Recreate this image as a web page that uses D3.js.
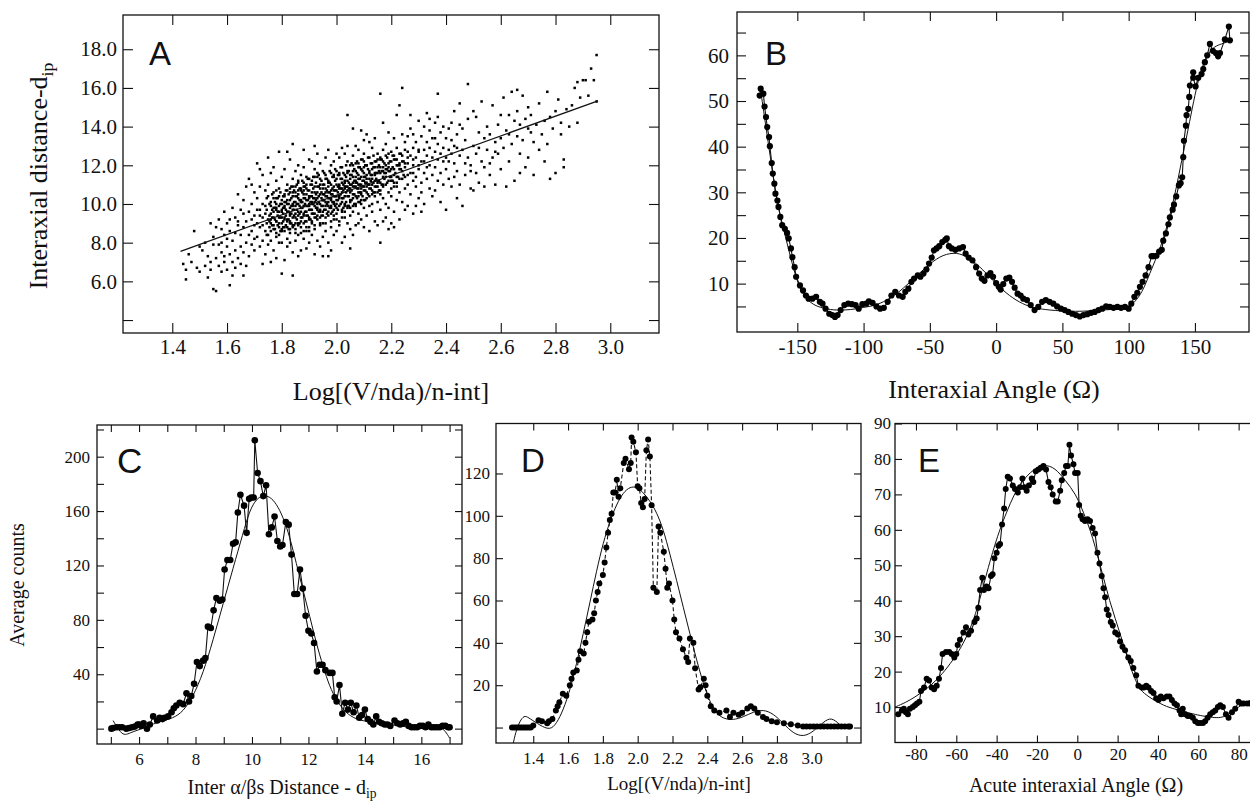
<!DOCTYPE html>
<html><head><meta charset="utf-8">
<script src="https://cdn.jsdelivr.net/npm/d3@7"></script>
<style>html,body{margin:0;padding:0;background:#fff;} svg{display:block;}</style>
</head><body><svg id="chart" width="1250" height="802"></svg>
<script>
// ---------------- DATA ----------------
// Panel A: scatter of Log[(V/nda)/n-int] vs interaxial distance, plus linear fit
const scatterA = [
[1.44,6.9],[1.45,6.6],[1.45,6.1],[1.46,7.4],[1.47,7.0],[1.48,8.6],[1.49,6.7],[1.50,6.5],[1.50,7.8],
[1.51,7.6],[1.52,6.8],[1.52,8.0],[1.53,7.3],[1.53,6.2],[1.54,7.0],[1.54,9.0],[1.55,5.6],[1.55,8.3],[1.55,7.9],[1.54,6.6],
[1.56,5.5],[1.56,7.2],[1.56,8.8],[1.57,6.8],[1.57,9.2],[1.58,7.5],[1.58,8.0],[1.58,6.5],[1.59,7.0],[1.59,8.4],[1.59,9.6],[1.60,6.6],[1.60,7.8],[1.60,9.0],[1.60,8.2],[1.57,7.9],[1.58,8.7],[1.59,7.3],
[1.61,5.8],[1.61,7.4],[1.61,8.6],[1.62,9.8],[1.62,7.0],[1.62,8.1],[1.63,9.3],[1.63,6.7],[1.63,7.6],[1.64,8.9],[1.64,10.5],[1.64,7.2],[1.65,8.4],[1.65,9.7],[1.65,7.8],[1.62,6.3],[1.63,8.5],[1.64,9.1],[1.61,9.2],[1.65,6.9],
[1.66,7.5],[1.66,8.8],[1.66,10.2],[1.67,9.1],[1.67,6.8],[1.67,8.0],[1.68,9.6],[1.68,11.3],[1.68,7.3],[1.69,8.6],[1.69,10.0],[1.69,9.2],[1.70,8.2],[1.70,10.6],[1.70,9.4],[1.70,7.6],[1.66,9.5],[1.67,10.9],[1.68,8.4],[1.69,7.9],[1.70,8.9],[1.66,6.3],[1.69,11.0],
[1.71,12.1],[1.71,9.0],[1.71,8.3],[1.71,10.3],[1.72,7.8],[1.72,9.7],[1.72,8.8],[1.72,10.9],[1.73,9.3],[1.73,8.1],[1.73,11.5],[1.73,10.0],[1.74,8.6],[1.74,9.9],[1.74,7.4],[1.74,10.7],[1.75,9.2],[1.75,8.4],[1.75,11.0],[1.75,12.4],[1.72,9.4],[1.73,8.9],[1.74,9.5],[1.71,9.7],[1.75,7.9],[1.73,6.9],[1.75,10.4],[1.72,11.8],
[1.76,9.5],[1.76,8.1],[1.76,10.1],[1.76,11.6],[1.77,8.7],[1.77,9.8],[1.77,10.6],[1.77,7.6],[1.78,9.1],[1.78,8.3],[1.78,10.3],[1.78,11.2],[1.79,9.6],[1.79,8.0],[1.79,10.8],[1.79,12.7],[1.80,9.3],[1.80,8.6],[1.80,10.0],[1.80,11.4],[1.80,6.4],[1.76,9.0],[1.77,9.3],[1.78,9.8],[1.79,9.0],[1.80,9.7],[1.77,11.9],[1.78,7.2],[1.79,8.4],[1.76,7.0],[1.80,8.0],[1.78,10.7],
[1.81,9.9],[1.81,8.8],[1.81,10.5],[1.81,11.8],[1.81,9.2],[1.82,8.2],[1.82,9.6],[1.82,10.2],[1.82,11.0],[1.82,7.8],[1.83,9.0],[1.83,10.8],[1.83,9.4],[1.83,8.5],[1.83,12.3],[1.84,10.0],[1.84,9.7],[1.84,8.9],[1.84,11.3],[1.84,7.5],[1.85,9.3],[1.85,10.4],[1.85,8.1],[1.85,11.7],[1.85,9.9],[1.84,13.1],[1.82,12.7],[1.81,7.1],[1.83,8.0],[1.85,10.9],[1.82,9.1],[1.84,10.6],[1.83,9.8],[1.85,8.7],[1.81,10.1],[1.84,6.3],
[1.86,9.6],[1.86,10.3],[1.86,8.4],[1.86,11.1],[1.86,12.0],[1.86,9.0],[1.87,9.8],[1.87,10.7],[1.87,8.8],[1.87,11.5],[1.87,7.6],[1.87,10.1],[1.88,9.4],[1.88,10.5],[1.88,8.2],[1.88,11.9],[1.88,9.9],[1.88,12.8],[1.89,10.2],[1.89,9.1],[1.89,8.6],[1.89,11.0],[1.89,10.8],[1.90,9.7],[1.90,10.4],[1.90,8.0],[1.90,11.3],[1.90,9.3],[1.90,12.3],[1.86,7.3],[1.87,9.3],[1.88,10.9],[1.89,9.6],[1.90,8.8],[1.89,7.7],[1.86,10.7],[1.88,8.6],[1.90,10.0],
[1.91,10.1],[1.91,9.0],[1.91,11.2],[1.91,8.4],[1.91,10.6],[1.92,9.5],[1.92,10.9],[1.92,8.7],[1.92,11.8],[1.92,10.3],[1.92,7.4],[1.93,10.0],[1.93,9.2],[1.93,11.4],[1.93,8.1],[1.93,12.6],[1.94,9.7],[1.94,10.5],[1.94,11.0],[1.94,8.9],[1.94,9.3],[1.95,10.2],[1.95,11.7],[1.95,9.0],[1.95,8.3],[1.95,10.8],[1.91,12.2],[1.93,9.7],[1.94,12.1],[1.92,9.9],[1.93,10.6],[1.95,9.6],[1.91,9.5],[1.94,7.8],[1.92,13.0],[1.95,7.3],
[1.96,9.9],[1.96,10.6],[1.96,11.3],[1.96,8.6],[1.96,12.4],[1.97,10.3],[1.97,9.4],[1.97,11.1],[1.97,8.0],[1.97,10.9],[1.98,9.8],[1.98,10.5],[1.98,11.6],[1.98,8.8],[1.98,12.0],[1.99,10.1],[1.99,9.2],[1.99,11.4],[1.99,8.4],[1.99,10.7],[2.00,10.0],[2.00,11.0],[2.00,9.5],[2.00,12.6],[2.00,8.6],[1.96,9.3],[1.97,12.8],[1.98,9.1],[1.99,12.2],[2.00,10.4],[1.97,7.3],[1.98,10.2],[1.96,10.1],[1.99,9.7],[2.00,11.7],[1.98,7.6],
[2.01,10.3],[2.01,9.1],[2.01,11.5],[2.01,12.4],[2.01,8.9],[2.02,10.6],[2.02,9.6],[2.02,11.9],[2.02,10.1],[2.02,12.9],[2.03,10.9],[2.03,9.3],[2.03,11.2],[2.03,8.3],[2.03,10.4],[2.04,11.6],[2.04,9.8],[2.04,10.7],[2.04,12.2],[2.04,14.6],[2.05,10.2],[2.05,11.3],[2.05,9.4],[2.05,12.0],[2.05,8.7],[2.02,8.0],[2.03,12.6],[2.04,9.0],[2.01,10.8],[2.05,10.8],[2.03,9.9],[2.02,11.1],[2.04,13.0],[2.05,7.7],
[2.06,10.5],[2.06,11.7],[2.06,9.6],[2.06,12.5],[2.06,13.9],[2.07,10.9],[2.07,11.2],[2.07,9.9],[2.07,12.1],[2.07,8.9],[2.08,10.4],[2.08,11.5],[2.08,12.8],[2.08,9.5],[2.08,10.8],[2.09,11.0],[2.09,10.2],[2.09,12.3],[2.09,9.2],[2.09,11.8],[2.10,10.7],[2.10,11.4],[2.10,12.6],[2.10,9.8],[2.10,13.3],[2.06,8.4],[2.07,13.0],[2.08,9.0],[2.09,10.6],[2.10,8.8],[2.08,11.9],[2.06,11.1],[2.10,11.9],[2.09,13.8],
[2.11,11.1],[2.11,10.3],[2.11,12.0],[2.11,9.4],[2.11,13.6],[2.12,10.8],[2.12,11.6],[2.12,12.4],[2.12,9.9],[2.13,11.3],[2.13,10.5],[2.13,12.9],[2.13,9.6],[2.13,11.8],[2.14,10.9],[2.14,12.2],[2.14,11.5],[2.14,9.1],[2.14,13.4],[2.15,11.2],[2.15,10.1],[2.15,12.6],[2.15,11.9],[2.15,8.9],[2.12,8.6],[2.13,10.0],[2.14,10.4],[2.12,13.2],[2.11,11.5],[2.15,10.6],
[2.16,11.6],[2.16,10.7],[2.16,12.3],[2.16,15.7],[2.16,9.7],[2.17,11.0],[2.17,12.8],[2.17,10.3],[2.17,11.9],[2.17,14.2],[2.18,11.4],[2.18,10.0],[2.18,12.5],[2.18,13.1],[2.18,9.3],[2.19,11.7],[2.19,10.6],[2.19,12.1],[2.19,13.7],[2.20,11.2],[2.20,12.7],[2.20,10.4],[2.20,9.0],[2.16,8.0],[2.17,9.1],[2.19,9.8],[2.18,11.8],[2.20,11.8],[2.17,11.4],[2.19,8.7],
[2.21,11.5],[2.21,12.3],[2.21,10.9],[2.21,13.4],[2.21,9.6],[2.22,12.0],[2.22,11.1],[2.22,12.9],[2.22,10.2],[2.23,11.8],[2.23,12.6],[2.23,10.6],[2.23,15.1],[2.23,9.2],[2.24,12.2],[2.24,11.3],[2.24,16.0],[2.24,13.6],[2.25,11.9],[2.25,12.8],[2.25,10.8],[2.25,13.2],[2.22,14.6],[2.24,10.1],[2.21,8.8],[2.25,9.7],[2.23,12.1],
[2.26,12.1],[2.26,11.0],[2.26,13.5],[2.26,9.9],[2.27,12.5],[2.27,11.6],[2.27,10.5],[2.27,13.9],[2.28,12.0],[2.28,11.2],[2.28,12.9],[2.28,9.5],[2.29,12.4],[2.29,11.4],[2.29,13.2],[2.29,10.9],[2.30,12.7],[2.30,11.8],[2.30,14.3],[2.30,10.3],[2.27,14.6],[2.28,13.6],[2.29,9.9],[2.26,12.7],
[2.31,12.2],[2.31,11.1],[2.31,13.5],[2.31,10.6],[2.32,12.8],[2.32,11.6],[2.32,14.0],[2.32,10.0],[2.33,12.5],[2.33,13.2],[2.33,11.3],[2.33,14.7],[2.34,12.0],[2.34,12.9],[2.34,10.8],[2.34,13.8],[2.35,12.4],[2.35,11.5],[2.35,13.4],[2.35,10.4],[2.32,12.2],[2.34,14.4],[2.31,9.6],[2.33,11.9],
[2.36,12.7],[2.36,11.9],[2.36,14.2],[2.36,10.7],[2.37,13.1],[2.37,12.3],[2.37,15.7],[2.37,11.2],[2.38,12.6],[2.38,13.7],[2.38,11.6],[2.38,10.1],[2.39,12.9],[2.39,14.0],[2.39,11.0],[2.40,12.4],[2.40,13.4],[2.40,11.8],[2.40,9.7],[2.37,14.5],[2.39,12.2],[2.36,13.4],
[2.41,12.8],[2.41,13.9],[2.41,11.3],[2.42,12.6],[2.42,14.2],[2.42,10.9],[2.42,13.3],[2.43,12.1],[2.43,13.0],[2.43,14.8],[2.44,12.9],[2.44,11.7],[2.44,13.6],[2.45,12.5],[2.45,14.1],[2.45,11.0],[2.45,15.2],[2.41,12.2],[2.43,11.4],[2.44,10.3],
[2.46,12.8],[2.46,13.9],[2.47,11.5],[2.47,13.3],[2.48,16.2],[2.48,12.4],[2.48,14.4],[2.49,12.0],[2.49,10.8],[2.50,13.0],[2.50,14.8],[2.50,10.7],[2.51,12.6],[2.51,11.6],[2.52,13.7],[2.52,11.1],[2.53,12.2],[2.53,15.3],[2.54,13.4],[2.54,10.9],[2.55,12.8],[2.55,14.0],[2.46,9.9],[2.49,11.7],[2.52,12.9],[2.47,12.1],[2.51,14.5],[2.54,11.9],
[2.56,13.6],[2.56,11.5],[2.57,12.4],[2.57,15.1],[2.58,13.2],[2.58,11.0],[2.59,14.1],[2.59,12.6],[2.60,13.4],[2.60,11.8],[2.61,15.5],[2.61,12.9],[2.62,13.8],[2.62,10.9],[2.63,14.6],[2.63,12.2],[2.64,15.8],[2.64,13.1],[2.65,14.3],[2.65,11.2],[2.56,12.1],[2.60,14.6],[2.63,13.6],[2.58,12.7],
[2.66,13.5],[2.66,14.8],[2.66,15.9],[2.67,12.6],[2.67,14.1],[2.68,13.3],[2.68,15.6],[2.69,11.9],[2.69,14.4],[2.70,13.9],[2.70,15.0],[2.70,12.4],[2.71,14.6],[2.72,13.2],[2.72,11.5],[2.73,14.1],[2.74,12.8],[2.74,15.2],[2.75,13.6],[2.67,11.6],[2.71,13.7],
[2.76,14.3],[2.76,12.2],[2.77,13.1],[2.77,15.8],[2.78,14.5],[2.78,11.3],[2.79,13.9],[2.80,14.8],[2.80,11.6],[2.81,15.4],[2.82,13.6],[2.82,14.2],[2.83,11.9],[2.83,12.3],[2.84,14.9],[2.85,14.0],
[2.86,15.1],[2.87,16.0],[2.88,14.2],[2.88,16.3],[2.89,15.5],[2.90,16.4],[2.91,16.4],[2.92,15.6],[2.93,17.0],[2.94,16.4],[2.95,17.7],[2.95,15.3],
[1.76,8.6],[1.76,9.9],[1.76,9.2],[1.77,10.3],[1.77,8.9],[1.77,9.6],[1.78,9.1],[1.78,10.0],[1.78,8.5],[1.78,9.7],[1.79,9.9],[1.79,8.8],[1.79,10.4],[1.79,9.3],
[1.80,9.0],[1.80,10.2],[1.80,9.6],[1.80,8.7],[1.81,10.4],[1.81,9.3],[1.81,8.6],[1.81,9.8],[1.82,9.2],[1.82,10.7],[1.82,8.8],[1.82,10.0],
[1.83,10.2],[1.83,9.1],[1.83,10.6],[1.83,8.7],[1.83,9.5],[1.84,9.3],[1.84,10.4],[1.84,8.8],[1.84,9.9],[1.84,10.9],[1.85,10.1],[1.85,9.0],[1.85,10.6],[1.85,9.5],[1.85,8.5],
[1.86,9.4],[1.86,10.5],[1.86,8.9],[1.86,10.0],[1.86,11.2],[1.87,10.2],[1.87,9.1],[1.87,10.8],[1.87,9.6],[1.87,8.5],[1.88,9.5],[1.88,10.3],[1.88,9.0],[1.88,11.1],[1.88,10.7],
[1.89,10.5],[1.89,9.4],[1.89,9.9],[1.89,8.8],[1.89,11.4],[1.90,9.9],[1.90,10.7],[1.90,9.2],[1.90,10.3],[1.90,8.6],[1.91,10.4],[1.91,9.7],[1.91,11.0],[1.91,9.1],[1.91,10.0],
[1.92,10.6],[1.92,9.3],[1.92,10.1],[1.92,11.4],[1.92,8.9],[1.93,9.8],[1.93,10.9],[1.93,10.3],[1.93,9.4],[1.93,11.6],[1.94,10.0],[1.94,10.8],[1.94,9.6],[1.94,11.3],[1.94,9.0],
[1.95,10.5],[1.95,9.9],[1.95,11.0],[1.95,9.4],[1.95,10.2],[1.96,10.8],[1.96,9.7],[1.96,10.4],[1.96,11.5],[1.96,9.0],[1.97,10.1],[1.97,10.6],[1.97,9.6],[1.97,11.2],[1.97,9.9],
[1.98,10.7],[1.98,9.5],[1.98,11.0],[1.98,10.3],[1.98,9.9],[1.99,10.0],[1.99,10.9],[1.99,9.4],[1.99,11.5],[1.99,10.4],[2.00,10.7],[2.00,9.8],[2.00,11.3],[2.00,10.2],[2.00,9.2],
[2.01,10.9],[2.01,9.9],[2.01,11.0],[2.01,10.4],[2.01,11.6],[2.02,10.3],[2.02,11.3],[2.02,9.7],[2.02,10.8],[2.02,9.3],[2.03,10.8],[2.03,10.0],[2.03,11.5],[2.03,9.6],[2.03,11.1],
[2.04,10.4],[2.04,11.2],[2.04,9.9],[2.04,11.7],[2.04,10.9],[2.05,11.0],[2.05,10.1],[2.05,11.5],[2.05,10.6],[2.05,9.8],[2.06,10.3],[2.06,11.4],[2.06,10.9],[2.06,9.9],[2.06,12.0],
[2.07,11.1],[2.07,10.4],[2.07,11.7],[2.07,10.0],[2.07,11.4],[2.08,10.6],[2.08,11.3],[2.08,10.1],[2.08,12.1],[2.08,11.0],[2.09,11.4],[2.09,10.5],[2.09,11.8],[2.09,10.8],[2.09,10.0],
[2.10,10.9],[2.10,11.6],[2.10,10.2],[2.10,11.2],[2.10,12.2],[2.11,11.3],[2.11,10.6],[2.11,12.0],[2.11,10.9],[2.12,11.0],[2.12,11.7],[2.12,10.4],[2.12,11.3],
[2.13,11.5],[2.13,10.7],[2.13,12.1],[2.13,11.0],[2.14,11.2],[2.14,11.9],[2.14,10.6],[2.14,11.6],[2.15,11.6],[2.15,10.9],[2.15,12.3],[2.15,11.1],
[2.16,11.1],[2.16,11.9],[2.16,10.5],[2.16,12.4],[2.17,11.7],[2.17,10.9],[2.17,12.2],[2.18,11.0],[2.18,12.0],[2.18,11.6],[2.19,11.9],[2.19,11.2],[2.19,12.6],
[2.20,11.4],[2.20,12.2],[2.20,10.8],[2.21,11.8],[2.21,11.1],[2.21,12.5],[2.22,11.4],[2.22,12.3],[2.22,10.9],[2.23,12.0],[2.23,11.3],[2.24,11.7],[2.24,12.5],
[2.25,12.1],[2.25,11.4],[2.26,11.5],[2.26,12.4],[2.28,12.3],[2.28,11.6],[2.30,12.0],[2.30,12.8],
[1.745,9.0],[1.745,9.7],[1.745,8.4],[1.745,10.3],[1.755,9.4],[1.755,8.8],[1.755,10.0],[1.755,9.1],[1.765,9.7],[1.765,8.9],[1.765,10.5],[1.765,9.3],
[1.775,9.2],[1.775,10.1],[1.775,8.7],[1.775,9.8],[1.785,9.6],[1.785,8.9],[1.785,10.3],[1.785,9.4],[1.795,9.3],[1.795,10.0],[1.795,8.6],[1.795,10.6],
[1.805,9.8],[1.805,9.1],[1.805,10.4],[1.805,8.8],[1.805,9.5],[1.815,9.4],[1.815,10.1],[1.815,8.9],[1.815,10.7],[1.815,9.7],
[1.825,10.0],[1.825,9.2],[1.825,10.5],[1.825,8.7],[1.825,9.6],[1.835,9.5],[1.835,10.3],[1.835,9.0],[1.835,10.9],[1.835,9.9],
[1.845,10.1],[1.845,9.4],[1.845,10.7],[1.845,8.9],[1.845,9.7],[1.855,9.7],[1.855,10.4],[1.855,9.2],[1.855,11.0],[1.855,10.0],
[1.865,10.2],[1.865,9.5],[1.865,10.8],[1.865,9.0],[1.865,9.9],[1.875,9.8],[1.875,10.6],[1.875,9.3],[1.875,11.2],[1.875,10.1],
[1.885,10.3],[1.885,9.6],[1.885,10.9],[1.885,9.1],[1.885,10.0],[1.895,9.9],[1.895,10.7],[1.895,9.4],[1.895,11.3],[1.895,10.2],
[1.905,10.4],[1.905,9.7],[1.905,11.0],[1.905,9.2],[1.905,10.1],[1.915,10.0],[1.915,10.8],[1.915,9.5],[1.915,11.4],[1.915,10.3],
[1.925,10.5],[1.925,9.8],[1.925,11.1],[1.925,9.3],[1.925,10.2],[1.935,10.1],[1.935,10.9],[1.935,9.6],[1.935,11.5],[1.935,10.4],
[1.945,10.6],[1.945,9.9],[1.945,11.2],[1.945,9.4],[1.945,10.3],[1.955,10.2],[1.955,11.0],[1.955,9.7],[1.955,11.6],[1.955,10.5],
[1.965,10.7],[1.965,10.0],[1.965,11.3],[1.965,9.5],[1.965,10.4],[1.975,10.3],[1.975,11.1],[1.975,9.8],[1.975,11.7],[1.975,10.6],
[1.985,10.8],[1.985,10.1],[1.985,11.4],[1.985,9.6],[1.985,10.5],[1.995,10.4],[1.995,11.2],[1.995,9.9],[1.995,11.8],[1.995,10.7],
[2.005,10.9],[2.005,10.2],[2.005,11.5],[2.005,9.7],[2.005,10.6],[2.015,10.5],[2.015,11.3],[2.015,10.0],[2.015,11.9],[2.015,10.8],
[2.025,11.0],[2.025,10.3],[2.025,11.6],[2.025,9.8],[2.025,10.7],[2.035,10.6],[2.035,11.4],[2.035,10.1],[2.035,12.0],[2.035,10.9],
[2.045,11.1],[2.045,10.4],[2.045,11.7],[2.045,9.9],[2.045,10.8],[2.055,10.7],[2.055,11.5],[2.055,10.2],[2.055,12.1],[2.055,11.0],
[2.065,11.2],[2.065,10.5],[2.065,11.8],[2.065,10.0],[2.065,10.9],[2.075,10.8],[2.075,11.6],[2.075,10.3],[2.075,12.2],[2.075,11.1],
[2.085,11.3],[2.085,10.6],[2.085,11.9],[2.085,10.1],[2.085,11.0],[2.095,10.9],[2.095,11.7],[2.095,10.4],[2.095,12.3],[2.095,11.2],
[2.105,11.4],[2.105,10.7],[2.105,12.0],[2.105,10.2],[2.105,11.1],[2.115,11.0],[2.115,11.8],[2.115,10.5],[2.115,12.4],
[2.125,11.5],[2.125,10.8],[2.125,12.1],[2.125,11.2],[2.135,11.1],[2.135,11.9],[2.135,10.6],[2.135,12.5],
[2.145,11.6],[2.145,10.9],[2.145,12.2],[2.145,11.3],[2.155,11.2],[2.155,12.0],[2.155,10.7],[2.155,11.7],
[2.165,11.7],[2.165,11.0],[2.165,12.3],[2.175,11.3],[2.175,12.1],[2.175,11.6],[2.185,11.8],[2.185,11.1],[2.185,12.4],
[2.195,11.4],[2.195,12.2],[2.195,11.7],[2.205,11.9],[2.205,11.2],[2.205,12.5],[2.215,11.6],[2.215,12.3],
[2.225,12.0],[2.225,11.4],[2.235,11.8],[2.235,12.6],[2.245,12.2],[2.245,11.5]
];
const fitA = [[1.43,7.55],[2.955,15.33]];

// Panel B: interaxial angle distribution (data + fit)
const dataB = [
[-178.4,51.2],[-177.6,52.7],[-175.6,51.6],[-174.7,48.8],[-173.6,46.5],[-172.7,44.3],[-171.3,42.1],[-170.7,40.1],[-169.3,36.4],[-168.5,34.1],
[-167.3,31.9],[-166.5,29.7],[-165,28.2],[-164.2,26.8],[-162.8,24.6],[-161.4,22.8],[-159.4,22],[-157.7,21.1],[-156.5,19.9],[-154.8,17.7],
[-153.7,15.8],[-152,13.6],[-150.9,11.5],[-148,9.6],[-145.7,8.5],[-143.5,7.4],[-141.5,6.7],[-138.6,6.7],[-135.8,7.1],[-133,6],
[-131,5.6],[-128.7,4.5],[-125.9,3.4],[-123.6,3.1],[-121.6,2.7],[-119.6,3.1],[-117.3,4.2],[-114.5,5.3],[-111.6,5.6],[-108.8,5.5],
[-106,5.3],[-103.7,4.5],[-100.9,5.5],[-98,5.6],[-96,6.1],[-93.2,5.8],[-90.3,5],[-87.5,4.5],[-84.7,4.7],[-81.8,6],
[-79,7.4],[-76.1,8.2],[-73.3,7.4],[-70.5,7.1],[-68.5,8.2],[-66.2,8.9],[-63.9,10.4],[-61.9,11.1],[-59.1,11.8],[-57.1,11.5],
[-54.8,12.2],[-52.6,13.1],[-50.6,14.4],[-48.6,15.7],[-46.9,17.3],[-44.9,17.7],[-42.9,18.2],[-40.6,19.1],[-38.4,19.6],[-37.2,19.9],
[-35.6,18.2],[-33.5,17.7],[-30.7,17.4],[-27.8,17.7],[-25,18],[-23,16.6],[-20.7,15.7],[-17.9,15.1],[-15.1,13.6],[-12.8,12.2],
[-10.8,11.1],[-8.8,10.6],[-6.5,11.8],[-4.3,12.3],[-2.3,11.5],[0,10.1],[2,9.3],[3.4,8.7],[5.4,9.9],[7.7,11.1],
[10,11.3],[12,10.4],[14,9.1],[16.2,7.8],[18.5,7.4],[20.5,6.7],[23.3,6.4],[26.1,5.3],[29,4.2],[31.8,4.9],
[34.7,6],[37.5,6.4],[40.3,6],[43.2,5.6],[46,5],[48.9,4.5],[51.7,4.2],[54.5,3.8],[57.4,3.4],[60.2,3.1],
[63.1,2.8],[65.9,3.1],[68.8,3.3],[71.6,3.6],[74.4,3.8],[77.3,4.2],[80.1,4.5],[83,5],[85.8,4.9],[88.6,4.7],
[91.5,4.9],[94.3,4.7],[97.2,4.9],[100,4.5],[102,5.6],[104.3,7.1],[106.5,8],[108.5,9.3],[110.5,10.4],[112.8,11.8],
[115,13.6],[117.3,16],[119,16],[121,16.1],[123,17],[125,17.4],[126.1,19.4],[128.1,21],[130,23],[131.1,24.5],
[133.2,26.2],[134.2,27.3],[135.9,29.1],[137.9,31.5],[139.2,32],[140.4,33.3],[141.2,37.7],[141.7,41.3],[143.2,44.6],[143.7,46.9],
[145,48.3],[145.7,50.9],[146.2,53.4],[148.7,56.3],[148.7,55.1],[150.5,53.2],[152.5,55.1],[155,55.9],[156.3,57],[157.5,58.5],
[159.3,60],[161.3,62.5],[163.5,61],[165.8,60.5],[167.5,59.8],[168.9,60.5],[172.6,63.5],[175.6,66.3],[176.4,63.3]
];
const fitB = [
[-178,53],[-175,47],[-172,41],[-169,35],[-166,29.5],[-163,25],[-160,21.5],[-157,18],[-154,14.5],[-151,11.5],
[-148,9],[-145,7.3],[-140,5.8],[-135,5],[-130,4.6],[-125,4.3],[-120,4.2],[-115,4.2],[-110,4.3],[-105,4.5],
[-100,4.8],[-95,5],[-90,5.4],[-85,6],[-80,6.8],[-75,7.8],[-70,9],[-65,10.3],[-60,11.7],[-55,13],
[-50,14.3],[-45,15.4],[-40,16.2],[-35,16.6],[-30,16.7],[-25,16.3],[-20,15.5],[-15,14.4],[-10,13],[-5,11.5],
[0,10],[5,8.6],[10,7.4],[15,6.4],[20,5.6],[25,5],[30,4.6],[40,4.2],[50,4],[60,3.9],
[70,4],[80,4.2],[90,4.4],[95,4.6],[100,5],[104,5.8],[108,7.2],[112,9.3],[116,12.3],[120,15],
[124,18],[128,21.5],[132,26],[136,31],[140,37],[144,42.5],[148,48.5],[152,54],[156,58],[160,60.5],
[165,62],[170,62.5],[175,63]
];

// Panel C: inter alpha/beta distance distribution
const dataC = [
[5.02,0],[5.08,0.5],[5.2,1],[5.3,1],[5.4,1],[5.55,0],[5.65,0.5],[5.75,1],[5.85,1.5],[5.95,3],[6.0,3],[6.08,2],[6.16,4],[6.28,0],[6.38,3],
[6.5,9],[6.64,6],[6.73,8],[6.83,7],[6.9,8],[7.03,9],[7.15,12],[7.23,15],[7.32,17],[7.44,19],[7.56,18],[7.68,26],[7.77,20],[7.85,24],[7.95,33],
[8.05,49],[8.15,46],[8.27,50],[8.35,52],[8.44,75],[8.54,74],[8.64,87],[8.74,96],[8.86,94],[8.95,95],[9.03,117],[9.13,124],[9.23,124],[9.33,136],[9.42,137],
[9.5,159],[9.59,172],[9.72,164],[9.81,144],[9.9,169],[9.98,170],[10.06,170],[10.1,212],[10.2,188],[10.3,182],[10.4,171],[10.5,179],[10.6,143],[10.7,148],[10.8,156],
[10.9,138],[11.0,134],[11.08,135],[11.2,152],[11.3,150],[11.4,128],[11.5,99],[11.6,99],[11.7,117],[11.8,103],[11.9,83],[12.0,72],[12.1,70],[12.2,63],[12.3,42],
[12.4,47],[12.5,47],[12.6,43],[12.75,41],[12.85,41],[12.93,23],[13.0,20],[13.1,32],[13.2,11],[13.3,19],[13.4,14],[13.5,19],[13.6,12],[13.7,17],[13.8,8],
[13.9,10],[14.0,14],[14.1,7],[14.2,5],[14.3,3],[14.4,9],[14.5,5],[14.6,4],[14.7,3],[14.8,3],[14.9,2],[15.05,6],[15.15,4],[15.25,3],[15.35,4],
[15.45,5],[15.55,2],[15.65,1],[15.75,1],[15.85,1],[15.95,2],[16.05,2],[16.15,1],[16.25,3],[16.35,1],[16.45,1],[16.55,1],[16.65,1],[16.75,2],[16.85,2],[16.95,1],[17.0,1]
];
const fitC = [
[5.08,5.9],[5.25,0],[5.43,-4.7],[5.6,-4],[5.79,-2.2],[6.14,0.2],[6.45,3],[6.73,5.1],[7.2,7.6],[7.56,12.5],[7.91,23.5],[8.27,40.7],[8.62,65],
[8.98,92],[9.33,118],[9.68,143.5],[9.92,160.7],[10.16,169],[10.39,171.7],[10.63,170.7],[10.86,165.6],[11.1,155.8],[11.34,141],[11.57,121.5],
[11.81,101.9],[12.05,82.3],[12.28,62.7],[12.52,45.6],[12.75,30.9],[12.99,21.1],[13.23,13.7],[13.58,7.6],[14.05,5.1],[14.64,3.9],[15.23,2],
[15.82,0.2],[16.3,1.5],[16.53,2.7],[16.77,0.2],[16.94,-4.7],[17.0,-7]
];

// Panel D: Log[(V/nda)/n-int] distribution
const dataD = [
[1.278,0],[1.29,0],[1.302,0],[1.314,0],[1.326,0],[1.338,0],[1.35,0],[1.362,0],[1.374,0],[1.386,0],[1.4,1],[1.43,3.5],[1.45,3],[1.48,2],[1.49,3],
[1.51,4],[1.53,8],[1.54,10],[1.55,12],[1.57,16],[1.59,15],[1.61,20],[1.62,23],[1.63,26],[1.65,27],[1.66,32],[1.67,36],[1.69,35],[1.7,40],[1.71,45],
[1.72,50],[1.74,51],[1.75,54],[1.76,60],[1.77,64],[1.78,68],[1.8,72],[1.81,78],[1.82,85],[1.83,92],[1.84,98],[1.85,101],[1.86,111],[1.87,111],[1.88,117],
[1.89,109],[1.9,113],[1.92,125],[1.93,127],[1.95,122],[1.96,125],[1.965,137],[1.975,135],[1.99,130],[2.0,114],[2.01,113],[2.02,106],[2.03,104],[2.04,108],[2.05,131],
[2.06,136],[2.07,128],[2.08,105],[2.09,66],[2.11,64],[2.12,95],[2.13,92],[2.15,83],[2.16,75],[2.17,66],[2.18,68],[2.2,60],[2.21,51],[2.22,45],[2.24,42],
[2.26,37],[2.28,33],[2.29,31],[2.3,42],[2.32,40],[2.33,28],[2.35,18],[2.36,19],[2.38,23],[2.39,20],[2.4,15],[2.42,10],[2.44,8],[2.47,7],[2.51,8],
[2.53,5],[2.55,7],[2.58,6],[2.6,7],[2.63,9],[2.65,10],[2.67,9],[2.69,7],[2.72,5],[2.74,4],[2.77,3],[2.8,2.5],[2.84,2],[2.88,1.5],[2.92,1],
[2.95,0.5],[2.97,0.5],[2.99,0.5],[3.01,0.5],[3.03,0.5],[3.05,0.5],[3.07,0.5],[3.09,0.5],[3.11,0.5],[3.13,0.5],[3.15,0.5],[3.17,0.5],[3.19,0.5],[3.21,0.5],[3.22,0.5]
];
const fitD = [
[1.285,-7.5],[1.304,-0.5],[1.33,4],[1.352,5.8],[1.381,4.2],[1.438,1.1],[1.496,-1.3],[1.534,1.9],[1.572,8.2],[1.611,17.6],[1.649,30.1],[1.687,44.3],
[1.726,59.2],[1.764,74.1],[1.802,87.4],[1.841,97.6],[1.879,105.5],[1.917,111],[1.956,113.7],[1.994,113.7],[2.032,111],[2.071,107],[2.109,101.6],
[2.147,93.7],[2.185,82],[2.224,69.4],[2.262,56.8],[2.3,44.3],[2.339,31.7],[2.377,20.7],[2.415,12],[2.454,6.6],[2.492,4.2],[2.549,3.5],[2.607,5],
[2.664,7.4],[2.722,8.5],[2.779,6.6],[2.837,1.9],[2.894,-2.8],[2.952,-4.4],[3.009,-2],[3.067,2.7],[3.115,5],[3.162,1.1],[3.2,-0.5],[3.22,-0.5]
];

// Panel E: acute interaxial angle distribution
const dataE = [
[-88.8,8],[-87,9],[-86,9.5],[-85,8.5],[-84,8],[-83,9.5],[-81.6,10],[-80.5,10.5],[-79.5,11],[-78.3,11.5],[-77.5,14.5],[-76,15.5],[-74.7,18],[-73.5,17.5],[-72.2,15.5],
[-71,15],[-69.7,16],[-68.6,18],[-67.6,21],[-66.8,25],[-65.1,25.5],[-63.5,25.5],[-62.3,25],[-61,24],[-60,25],[-59.3,27.5],[-58.2,29],[-56.5,31],[-55.2,32.5],[-54,30.5],
[-52.7,31.5],[-51,34],[-49.9,35],[-49.1,38],[-48.2,43],[-47.1,46.5],[-46.3,43],[-45,44],[-44,43.5],[-42.8,47],[-42,47.5],[-41.1,52],[-40,53.5],[-39.1,55.5],[-38.3,56],
[-37.3,61.5],[-36.3,66],[-35.5,71.5],[-34.5,75],[-33.4,74.5],[-32,72.5],[-30.9,71.5],[-29.5,70.5],[-28.4,72],[-27.2,74.5],[-26.2,72],[-25.1,71],[-24,72.5],[-22.6,74.5],[-21.8,73.5],
[-20.6,76.5],[-19.3,77],[-18.1,77.5],[-16.8,78],[-15.5,77],[-14.3,73.5],[-13.2,72],[-12.2,70],[-10.7,68],[-9.7,68],[-8.5,71],[-7.7,74],[-6.5,76],[-5.6,78],[-4.7,78],
[-3.9,84],[-3.1,81],[-1.9,78.5],[-1.1,76],[0.2,76],[0.9,67],[1.7,64],[2.6,63],[3.8,62.5],[5.1,63],[6.3,62.5],[7.6,60.5],[8.8,59],[10,53.5],[11,50.5],
[12.1,47],[13,43.5],[13.8,41],[14.6,37.5],[15.5,36],[16.6,34],[17.6,33],[18.8,31],[20.1,30.5],[21.2,28.5],[22.4,27],[23.7,26],[25.3,24],[26.5,23],[27.8,21],
[29.2,19],[30.3,16],[32,15.5],[33,15.5],[34.2,16],[35.3,15.5],[36.6,14.5],[37.8,14],[39.1,12.5],[40.3,12],[41.4,13],[42.7,12.5],[44.4,13],[45.7,13],[46.9,12],
[48.2,11],[49.4,10.5],[50.7,9],[51.5,8],[52.3,9.5],[53.5,8],[54.8,7.5],[56,7.5],[57.3,7],[58.5,6],[59.8,5.5],[60.9,5.5],[62.3,5.5],[63.4,6],[64.6,7],
[65.9,8],[67.2,8.5],[68.4,9],[69.7,10],[70.9,10.5],[72.2,10],[73.7,8],[75,7],[76.7,8.5],[78.3,9.5],[80,11.5],[81.3,11],[82.5,11],[84.2,11],[85.5,11]
];
const fitE = [
[-90.4,10],[-85,11.3],[-80,13],[-75,15],[-70,17.5],[-66,20],[-60,24.5],[-55,29.5],[-50,36.5],[-44,50],[-38.6,60],[-35,65],[-31.4,70],[-27,74],
[-22,77],[-16.3,78.5],[-11,77.5],[-6,74],[-0.6,70],[3,65],[6.4,60],[9,55],[11.3,50],[13.7,45],[16,40],[18.8,35],[21.6,30],[24.3,25],[27,20],
[30.8,15],[34,13.5],[37.8,12],[44.4,10],[50,9.2],[57.6,8],[62,7.5],[67.5,7],[71,7],[74,7.5],[77.5,9],[80,10],[82.4,11],[86,12]
];

// Tick values / labels
const ticksAx = [1.4,1.6,1.8,2.0,2.2,2.4,2.6,2.8,3.0];
const labelsAx = [1.4,1.6,1.8,2.0,2.2,2.4,2.6,2.8,3.0];
const ticksAy = [4,6,8,10,12,14,16,18];
const labelsAy = [6,8,10,12,14,16,18];
const ticksBx = [-150,-100,-50,0,50,100,150];
const labelsBx = [-150,-100,-50,0,50,100,150];
const ticksBy = [5,10,15,20,25,30,35,40,45,50,55,60,65];
const labelsBy = [10,20,30,40,50,60];
const ticksCx = [5,6,7,8,9,10,11,12,13,14,15,16,17];
const labelsCx = [6,8,10,12,14,16];
const ticksCy = [0,20,40,60,80,100,120,140,160,180,200,220];
const labelsCy = [40,80,120,160,200];
const ticksDx = [1.4,1.6,1.8,2.0,2.2,2.4,2.6,2.8,3.0,3.2];
const labelsDx = [1.4,1.6,1.8,2.0,2.2,2.4,2.6,2.8,3.0];
const ticksDy = [0,20,40,60,80,100,120];
const labelsDy = [20,40,60,80,100,120];
const ticksEx = [-80,-60,-40,-20,0,20,40,60,80];
const labelsEx = [-80,-60,-40,-20,0,20,40,60,80];
const ticksEy = [10,20,30,40,50,60,70,80,90];
const labelsEy = [10,20,30,40,50,60,70,80,90];

// ---------------- DRAWING ----------------
const svg = d3.select("#chart");
const SERIF = "'Liberation Serif','Times New Roman',Times,serif";
const SANS = "'Liberation Sans',Arial,Helvetica,sans-serif";
const INK = "#111";

function makePanel(o) {
  const x = d3.scaleLinear().domain(o.xDomain).range([o.left, o.right]);
  const y = d3.scaleLinear().domain(o.yDomain).range([o.bottom, o.top]);
  const clipId = "clip" + o.name;
  svg.append("clipPath").attr("id", clipId).append("rect")
    .attr("x", o.left).attr("y", o.top).attr("width", o.right - o.left).attr("height", o.bottom - o.top);
  const fx = d => o.xLabels.includes(d) ? o.xFmt(d) : "";
  const fy = d => o.yLabels.includes(d) ? o.yFmt(d) : "";
  const axes = svg.append("g");
  const style = sel => {
    sel.select(".domain").remove();
    sel.selectAll("line").attr("stroke", INK).attr("stroke-width", 1.1);
    sel.selectAll("text").attr("font-family", SERIF).attr("font-size", o.fs).attr("fill", INK);
  };
  axes.append("g").attr("transform", `translate(0,${o.bottom})`)
    .call(d3.axisBottom(x).tickValues(o.xTicks).tickSizeInner(-o.tick).tickSizeOuter(0).tickPadding(o.xPad).tickFormat(fx)).call(style);
  axes.append("g").attr("transform", `translate(0,${o.top})`)
    .call(d3.axisTop(x).tickValues(o.xTicks).tickSizeInner(-o.tick).tickSizeOuter(0).tickFormat("")).call(style);
  axes.append("g").attr("transform", `translate(${o.left},0)`)
    .call(d3.axisLeft(y).tickValues(o.yTicks).tickSizeInner(-o.tick).tickSizeOuter(0).tickPadding(o.yPad).tickFormat(fy)).call(style);
  axes.append("g").attr("transform", `translate(${o.right},0)`)
    .call(d3.axisRight(y).tickValues(o.yTicks).tickSizeInner(-o.tick).tickSizeOuter(0).tickFormat("")).call(style);
  svg.append("rect").attr("x", o.left).attr("y", o.top)
    .attr("width", o.right - o.left).attr("height", o.bottom - o.top)
    .attr("fill", "none").attr("stroke", INK).attr("stroke-width", 1.3);
  const g = svg.append("g").attr("clip-path", `url(#${clipId})`);
  return {x, y, g};
}

function letter(t, x, y, size) {
  svg.append("text").attr("x", x).attr("y", y).text(t)
    .attr("font-family", SANS).attr("font-size", size).attr("fill", INK);
}
function title(parts, x, y, size, rotate) {
  const t = svg.append("text").attr("font-family", SERIF).attr("font-size", size)
    .attr("fill", INK).attr("text-anchor", "middle");
  if (rotate) t.attr("transform", `translate(${x},${y}) rotate(-90)`);
  else t.attr("x", x).attr("y", y);
  parts.forEach(p => {
    const s = t.append("tspan").text(p.t);
    if (p.sub) s.attr("font-size", size * 0.68).attr("dy", size * 0.22);
  });
  return t;
}
function drawSeries(P, data, fit, r, dashed) {
  const line = d3.line().x(d => P.x(d[0])).y(d => P.y(d[1]));
  P.g.append("path").datum(fit).attr("d", line.curve(d3.curveBasis))
    .attr("fill", "none").attr("stroke", INK).attr("stroke-width", 1);
  const l2 = d3.line().x(d => P.x(d[0])).y(d => P.y(d[1]));
  const p = P.g.append("path").datum(data).attr("d", l2)
    .attr("fill", "none").attr("stroke", INK).attr("stroke-width", 1.1);
  if (dashed) p.attr("stroke-dasharray", "4,2.5");
  P.g.selectAll(null).data(data).join("circle")
    .attr("cx", d => P.x(d[0])).attr("cy", d => P.y(d[1])).attr("r", r).attr("fill", "#000");
}

// Panel A
const PA = makePanel({name:"A", left:123, right:659, top:15, bottom:333,
  xDomain:[1.22,3.178], yDomain:[3.33,19.77], xTicks:ticksAx, xLabels:labelsAx, yTicks:ticksAy, yLabels:labelsAy,
  xFmt:d3.format(".1f"), yFmt:d3.format(".1f"), tick:10, fs:21, xPad:6, yPad:6});
PA.g.selectAll(null).data(scatterA).join("rect")
  .attr("x", d => PA.x(d[0]) - 1.25).attr("y", d => PA.y(d[1]) - 1.25)
  .attr("width", 2.5).attr("height", 2.5).attr("fill", "#000");
PA.g.append("path").datum(fitA).attr("d", d3.line().x(d => PA.x(d[0])).y(d => PA.y(d[1])))
  .attr("stroke", INK).attr("stroke-width", 1.3).attr("fill", "none");
letter("A", 149, 65, 33);
title([{t:"Log[(V/nda)/n-int]"}], 391, 400, 26);
title([{t:"Interaxial distance-d"},{t:"ip", sub:true}], 47, 176, 26, true);

// Panel B
const PB = makePanel({name:"B", left:737, right:1249, top:12, bottom:332,
  xDomain:[-195.5,190.8], yDomain:[-0.6,69.5], xTicks:ticksBx, xLabels:labelsBx, yTicks:ticksBy, yLabels:labelsBy,
  xFmt:d => String(d), yFmt:d => String(d), tick:9, fs:21, xPad:7, yPad:8});
drawSeries(PB, dataB, fitB, 3.1, false);
letter("B", 765, 65, 33);
title([{t:"Interaxial Angle (Ω)"}], 994, 398, 26);

// Panel C
const PC = makePanel({name:"C", left:97, right:462, top:425, bottom:744,
  xDomain:[4.51,17.44], yDomain:[-11.3,223.3], xTicks:ticksCx, xLabels:labelsCx, yTicks:ticksCy, yLabels:labelsCy,
  xFmt:d => String(d), yFmt:d => String(d), tick:7, fs:17, xPad:9, yPad:7});
drawSeries(PC, dataC, fitC, 3.3, false);
letter("C", 117, 473, 35);
title([{t:"Inter α/βs Distance - d"},{t:"ip", sub:true}], 282, 794, 20);
title([{t:"Average counts"}], 24, 585, 20, true);

// Panel D
const PD = makePanel({name:"D", left:496, right:861, top:423.5, bottom:743,
  xDomain:[1.186,3.283], yDomain:[-7.3,143.6], xTicks:ticksDx, xLabels:labelsDx, yTicks:ticksDy, yLabels:labelsDy,
  xFmt:d3.format(".1f"), yFmt:d => String(d), tick:7, fs:17, xPad:9, yPad:6});
drawSeries(PD, dataD, fitD, 3, true);
letter("D", 521, 472, 33);
title([{t:"Log[(V/nda)/n-int]"}], 679, 790, 19);

// Panel E
const PE = makePanel({name:"E", left:895, right:1259.6, top:423.5, bottom:742.5,
  xDomain:[-90.4,90.4], yDomain:[0,90], xTicks:ticksEx, xLabels:labelsEx, yTicks:ticksEy, yLabels:labelsEy,
  xFmt:d => String(d), yFmt:d => String(d), tick:7, fs:17, xPad:5, yPad:4});
drawSeries(PE, dataE, fitE, 3, false);
letter("E", 918, 472, 33);
title([{t:"Acute interaxial Angle (Ω)"}], 1076, 792, 20);
</script>
</body></html>
